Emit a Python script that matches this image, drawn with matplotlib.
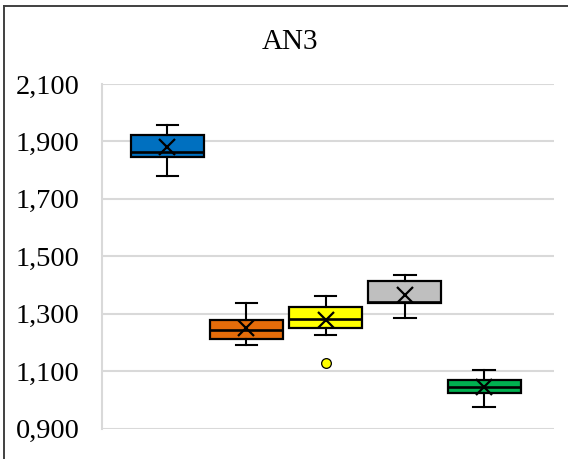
import matplotlib.pyplot as plt
from matplotlib.lines import Line2D
from matplotlib.ticker import FuncFormatter

plt.rcParams['font.family'] = ['Liberation Serif', 'DejaVu Serif']

# box statistics
colors = ['#0070C0', '#E46C0A', '#FFFF00', '#BFBFBF', '#00B050']
q1 = [1.847, 1.214, 1.249, 1.337, 1.024]
med = [1.864, 1.244, 1.282, 1.340, 1.045]
q3 = [1.922, 1.278, 1.323, 1.414, 1.068]
whislo = [1.779, 1.190, 1.226, 1.284, 0.977]
whishi = [1.958, 1.339, 1.362, 1.435, 1.103]
means = [1.879, 1.250, 1.280, 1.367, 1.046]
fliers = [[], [], [1.130], [], []]
yticks = [0.9, 1.1, 1.3, 1.5, 1.7, 1.9, 2.1]

fig = plt.figure(figsize=(5.68, 4.59), dpi=100)
ax = fig.add_axes([102/568, 1-428.7/459, (554-102)/568, (428.7-84)/459])

stats = []
for i in range(len(q1)):
    stats.append(dict(med=med[i], q1=q1[i], q3=q3[i], whislo=whislo[i],
                      whishi=whishi[i], mean=means[i], fliers=fliers[i]))

bp = ax.bxp(stats, positions=range(len(stats)), widths=0.92, showmeans=True,
            patch_artist=True, capwidths=0.27,
            boxprops=dict(edgecolor='black', linewidth=1.6),
            medianprops=dict(color='black', linewidth=1.9),
            whiskerprops=dict(color='black', linewidth=1.5),
            capprops=dict(color='black', linewidth=1.5),
            meanprops=dict(marker='x', markeredgecolor='black', markersize=12,
                           markeredgewidth=1.6),
            flierprops=dict(marker='o', markersize=7, markeredgecolor='black',
                            markeredgewidth=0.9))
for i, b in enumerate(bp['boxes']):
    b.set_facecolor(colors[i])
for i, f in enumerate(bp['fliers']):
    f.set_markerfacecolor(colors[i])

ax.set_ylim(0.9, 2.1)
ax.set_xlim(-0.823, 4.881)
ax.set_yticks(yticks)
ax.yaxis.set_major_formatter(FuncFormatter(lambda v, p: f"{v:.3f}".replace('.', ',')))
ax.set_xticks([])
ax.tick_params(axis='y', length=0, pad=16, labelsize=20.5)
ax.grid(axis='y', color='#D9D9D9', linewidth=1.5)
ax.set_axisbelow(True)
for s in ['top', 'right', 'bottom']:
    ax.spines[s].set_visible(False)
ax.spines['left'].set_color('#D9D9D9')
ax.spines['left'].set_linewidth(1.5)

fig.text(0.51, 1-42/459, 'AN3', ha='center', va='center', fontsize=21)

# outer chart border (only left and top visible)
fig.add_artist(Line2D([4/568, 4/568], [0, 1-6/459], color='#404040', linewidth=1.4))
fig.add_artist(Line2D([4/568, 1], [1-6/459, 1-6/459], color='#404040', linewidth=1.4))

fig.savefig('out.png', dpi=100)
